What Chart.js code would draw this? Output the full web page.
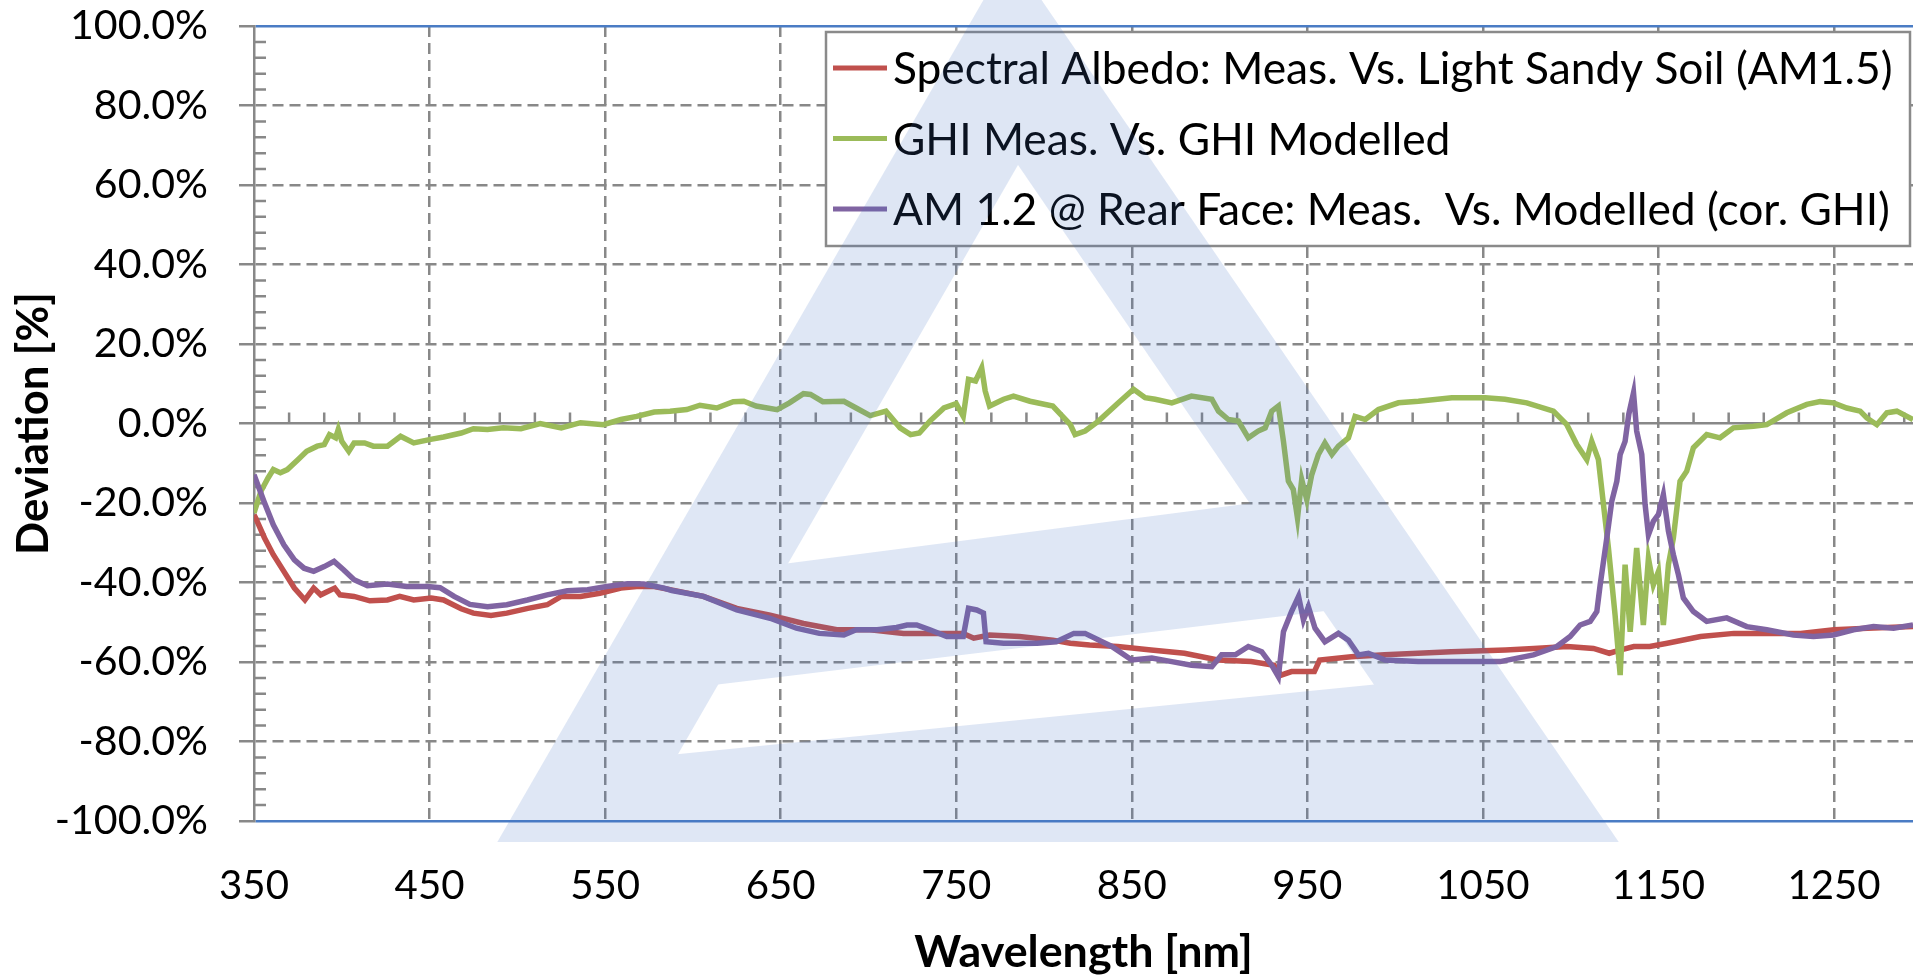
<!DOCTYPE html>
<html>
<head>
<meta charset="utf-8">
<title>Deviation vs wavelength</title>
<script src="https://cdn.jsdelivr.net/npm/chart.js@4.4.1/dist/chart.umd.min.js"></script>
<style>
  html, body { margin: 0; padding: 0; background: #fff; }
  #wrap { width: 1913px; height: 975px; }
</style>
</head>
<body>
<div id="wrap"><canvas id="Chart1" width="1913" height="975"></canvas></div>
<script>
// tick labels
var xTickValues = [350, 450, 550, 650, 750, 850, 950, 1050, 1150, 1250];
var seriesLabels = [
  "Spectral Albedo: Meas. Vs. Light Sandy Soil (AM1.5)",
  "GHI Meas. Vs. GHI Modelled",
  "AM 1.2 @ Rear Face: Meas.  Vs. Modelled (cor. GHI)"
];

// series 1: spectral albedo
var albedoNm = [350, 351, 356, 361, 367, 373, 379, 384, 388, 396,
  399, 407, 416, 426, 433, 441, 451, 458, 468, 475,
  485, 494, 506, 517, 525, 536, 547, 559, 568, 578,
  587, 606, 625, 644, 663, 682, 701, 720, 739, 754,
  760, 769, 786, 805, 815, 826, 842, 861, 880, 899,
  918, 931, 935, 941, 954, 957, 975, 994, 1013, 1032,
  1050, 1063, 1079, 1098, 1113, 1122, 1128, 1136, 1145, 1155,
  1174, 1193, 1212, 1231, 1250, 1269, 1295];
var albedoDev = [-23, -23.8, -28.8, -33, -37.2, -41.4, -44.4, -41.4, -43.1, -41.4,
  -43.1, -43.5, -44.6, -44.4, -43.5, -44.4, -43.9, -44.4, -46.6, -47.7,
  -48.3, -47.7, -46.5, -45.6, -43.5, -43.5, -42.7, -41.4, -41, -41,
  -41.8, -43.5, -46.5, -48.2, -50.3, -51.9, -51.9, -52.8, -52.8, -52.8,
  -54, -53.2, -53.6, -54.5, -55.3, -55.7, -56.1, -57, -57.8, -59.5,
  -59.9, -60.8, -63.3, -62.4, -62.4, -59.5, -58.7, -58.2, -57.8, -57.4,
  -57.2, -57, -56.6, -56.1, -56.6, -57.8, -57, -56.1, -56.1, -55.3,
  -53.6, -52.8, -52.8, -52.8, -51.9, -51.5, -51.1];

// series 2: GHI
var ghiNm = [350, 354, 358, 361, 365, 369, 375, 380, 386, 390,
  393, 396.5, 398, 400, 404, 407, 413, 418, 426, 433.5,
  441, 450.6, 458, 468, 475, 483, 492, 502, 513, 525,
  536, 549, 559, 568, 578, 587, 596.5, 604, 613.6, 623,
  629, 636, 648, 655, 663, 667, 674, 686, 693, 701,
  710, 718, 724, 729, 735, 743, 750, 754, 757, 761,
  764.5, 766.5, 769, 777, 782.6, 792, 805, 815, 817.7, 823.4,
  831, 842.4, 851, 857.6, 863.3, 872.8, 884, 895.6, 899.4, 905,
  910.7, 916.4, 922, 926, 929.7, 933.5, 936.4, 939.2, 942, 944.4,
  946.8, 949.7, 952.5, 956.3, 960, 964, 967.7, 973.4, 977.2, 983,
  990.5, 1001.9, 1013.3, 1032.3, 1051.3, 1062.6, 1075, 1090.2, 1097.8, 1103.5,
  1109.2, 1112, 1115.8, 1118.7, 1121.5, 1125.3, 1128.2, 1131, 1133.9, 1137.6,
  1141.4, 1144.3, 1147.1, 1150, 1152.8, 1155.7, 1158.5, 1162.3, 1166.1, 1169.9,
  1177.5, 1185.1, 1192.7, 1204.1, 1211.7, 1223.1, 1234.5, 1242.1, 1249.7, 1257.3,
  1264.9, 1268.7, 1274.4, 1280.1, 1285.8, 1295];
var ghiDev = [-22.5, -17, -13.7, -11.6, -12.4, -11.6, -9.1, -7, -5.7, -5.3,
  -2.8, -3.6, -1.5, -4.5, -7, -4.9, -4.9, -5.7, -5.7, -3.2,
  -4.9, -4.0, -3.4, -2.4, -1.3, -1.5, -1.1, -1.3, 0, -1.1,
  0.2, -0.3, 1.0, 1.8, 2.9, 3.1, 3.5, 4.6, 3.9, 5.5,
  5.6, 4.4, 3.5, 5.2, 7.5, 7.3, 5.5, 5.6, 3.9, 2.0,
  3.1, -1.1, -2.8, -2.4, 0.6, 3.9, 5.0, 1.8, 11.1, 10.7,
  14.0, 8.2, 4.4, 6.1, 6.9, 5.6, 4.4, -0.3, -2.8, -1.9,
  0.6, 5.2, 8.6, 6.5, 6.1, 5.2, 6.9, 6.1, 3.1, 1.0,
  0.6, -3.6, -1.9, -1.1, 3.1, 4.4, -4.5, -14.5, -16.6, -23.8,
  -14.1, -19.2, -12.9, -7.8, -4.9, -7.8, -5.7, -3.6, 1.8, 1.0,
  3.5, 5.2, 5.6, 6.5, 6.5, 6.1, 5.2, 3.1, -0.3, -5.3,
  -9.1, -4.5, -9.1, -20.4, -31.3, -48.2, -63.3, -35.5, -52.4, -31.3,
  -50.7, -33.9, -40.6, -37.2, -50.7, -35.5, -28.8, -14.5, -12, -6.1,
  -2.8, -3.6, -1.1, -0.7, -0.3, 2.7, 4.8, 5.5, 5.2, 3.9,
  3.1, 1.4, -0.3, 2.7, 3.1, 1.0];

// series 3: rear face AM 1.2
var rearNm = [350, 355.7, 361, 367, 373, 378.5, 384, 390, 395.6, 401,
  407, 414.6, 426, 437, 448.7, 456, 464, 473, 483, 494,
  505.7, 517, 528.5, 540, 551, 562.7, 572, 583.5, 588, 606,
  625, 644, 659, 672, 686, 693, 705, 716, 722, 727.5,
  735, 744.6, 754, 757, 761.7, 765.5, 767, 777, 796, 807,
  817, 823.4, 838.6, 850, 861.4, 872.8, 884, 895.6, 901.2, 909,
  916.4, 924, 929.7, 933.5, 936.4, 941, 945, 947.8, 950.6, 954.4,
  960, 967.7, 973.4, 979.1, 984.8, 994.3, 1013.3, 1032.3, 1059.8, 1078.8,
  1092.1, 1099.7, 1105.4, 1111.1, 1114.9, 1116.8, 1120.6, 1123.4, 1126.3, 1128.2,
  1131, 1133.1, 1135.8, 1137.6, 1140.5, 1142.4, 1144.3, 1147.1, 1150, 1152.8,
  1155.7, 1158.5, 1161.4, 1164.2, 1169.9, 1177.5, 1188.9, 1200.3, 1211.7, 1226.9,
  1238.3, 1249.7, 1261.1, 1272.5, 1283.9, 1295];
var rearDev = [-12.9, -19.6, -25.5, -30.5, -34.3, -36.4, -37.2, -36, -34.7, -36.8,
  -39.3, -40.8, -40.4, -41, -41, -41.3, -43.5, -45.5, -46.1, -45.6,
  -44.4, -43.1, -42.1, -41.8, -41, -40.3, -40.4, -41.4, -42, -43.5,
  -46.9, -49, -51.5, -52.8, -53.2, -51.9, -51.9, -51.3, -50.7, -50.7,
  -51.9, -53.6, -53.6, -46.5, -46.9, -47.7, -54.9, -55.3, -55.3, -54.9,
  -52.8, -52.8, -56.1, -59.5, -59, -59.9, -60.8, -61.2, -58.2, -58.2,
  -56.1, -57.4, -60.8, -63.7, -52.4, -47.3, -43.5, -49.4, -46.1, -51.5,
  -54.9, -52.8, -54.5, -58.2, -57.8, -59.5, -59.9, -59.9, -59.9, -58.2,
  -56.1, -53.6, -50.7, -49.8, -47.3, -40.6, -28.8, -19.6, -14.5, -7.8,
  -4.5, 2.3, 7.7, -1.9, -7.8, -20.4, -28, -24.6, -22.9, -17.9,
  -27.1, -33, -38.1, -43.9, -47.3, -49.8, -48.9, -51.1, -51.9, -53.2,
  -53.6, -53.2, -51.9, -51.1, -51.5, -50.7];

var seriesColors = ['#C0504D', '#9BBB59', '#8064A2'];
var gridGray = '#888888';
var edgeBlue = '#4A7CC4';

function pairs(xs, ys) {
  return xs.map(function (x, i) { return { x: x, y: ys[i] }; });
}

// pick a Lato size so a text gets the width it has in the picture
function fitSize(text, width, weight) {
  var c = document.createElement('canvas').getContext('2d');
  c.font = (weight ? weight + ' ' : '') + '100px Lato';
  return Math.round(1000 * width / c.measureText(text).width) / 10;
}
var xTickSize = fitSize('350', 70);
var yTickSize = fitSize('100.0%', 138);
var legendSize = fitSize(seriesLabels[0], 999);
var xTitleSize = fitSize('Wavelength [nm]', 339, 'bold');
var yTitleSize = fitSize('Deviation [%]', 263, 'bold');

// faint triangle watermark, built once on a side canvas
function buildMark() {
  var cv = document.createElement('canvas');
  cv.width = 1913; cv.height = 975;
  var w = cv.getContext('2d');
  function poly(pts) {
    w.beginPath();
    w.moveTo(pts[0][0], pts[0][1]);
    for (var i = 1; i < pts.length; i++) w.lineTo(pts[i][0], pts[i][1]);
    w.closePath();
  }
  var yb = 842;
  w.fillStyle = 'rgb(68,114,196)';
  poly([[1010, -46], [1042 + 0.685 * yb, yb], [984 - 0.578 * yb, yb]]);
  w.fill();
  w.save();
  poly([[1018, 165], [905 + 0.685 * yb, yb], [1114 - 0.578 * yb, yb]]);
  w.clip();
  w.globalCompositeOperation = 'destination-out';
  poly([[0, -10], [1913, -10], [1913, 547 - 0.13 * (1913 - 914)], [0, 547 + 0.13 * 914]]);
  w.fill();
  poly([[0, 671 + 0.121 * 829], [1913, 671 - 0.121 * (1913 - 829)],
        [1913, 752 - 0.1 * (1913 - 700)], [0, 752 + 0.1 * 700]]);
  w.fill();
  w.restore();
  return cv;
}
var markCanvas = buildMark();

// minor ticks, boxed legend (Excel style) and watermark
var extras = {
  id: 'extras',
  beforeDatasetsDraw: function (chart) {
    var ctx = chart.ctx, xs = chart.scales.x, ys = chart.scales.y;
    var y0 = ys.getPixelForValue(0), xl = xs.getPixelForValue(350);
    ctx.save();
    ctx.strokeStyle = gridGray;
    ctx.lineWidth = 2.5;
    ctx.beginPath();
    for (var w = 370; w < 1295; w += 20) {
      if ((w - 350) % 100 === 0) continue;
      var px = xs.getPixelForValue(w);
      ctx.moveTo(px, y0);
      ctx.lineTo(px, y0 - 11);
    }
    for (var v = -96; v < 100; v += 4) {
      if (v % 20 === 0) continue;
      var py = ys.getPixelForValue(v);
      ctx.moveTo(xl, py);
      ctx.lineTo(xl + 12, py);
    }
    ctx.stroke();
    ctx.restore();
  },
  afterDatasetsDraw: function (chart) {
    var ctx = chart.ctx, ca = chart.chartArea;
    var bx = ca.left + 572, by = ca.top + 6, bw = 1084, bh = 214;
    ctx.save();
    ctx.fillStyle = '#ffffff';
    ctx.fillRect(bx, by, bw, bh);
    ctx.strokeStyle = '#8a8a8a';
    ctx.lineWidth = 2.5;
    ctx.strokeRect(bx, by, bw, bh);
    ctx.font = legendSize + 'px Lato';
    ctx.textBaseline = 'middle';
    ctx.textAlign = 'left';
    [0, 1, 2].forEach(function (i) {
      var ds = chart.data.datasets[i];
      var ry = by + 36 + i * 70.5;
      ctx.strokeStyle = ds.borderColor;
      ctx.lineWidth = 5;
      ctx.beginPath();
      ctx.moveTo(bx + 7, ry);
      ctx.lineTo(bx + 61, ry);
      ctx.stroke();
      ctx.fillStyle = '#000';
      ctx.fillText(ds.label, bx + 67, ry + 2);
    });
    ctx.restore();
  },
  afterDraw: function (chart) {
    var ctx = chart.ctx;
    ctx.save();
    ctx.globalAlpha = 0.17;
    ctx.drawImage(markCanvas, 0, 0);
    ctx.restore();
  }
};

var ctxL = document.getElementById('Chart1').getContext('2d');
var devChart = new Chart(ctxL, {
  type: 'line',
  data: {
    datasets: [
      { label: seriesLabels[0], data: pairs(albedoNm, albedoDev), borderColor: seriesColors[0], borderWidth: 5.5, pointRadius: 0, order: 2 },
      { label: seriesLabels[1], data: pairs(ghiNm, ghiDev), borderColor: seriesColors[1], borderWidth: 5.5, pointRadius: 0, order: 1 },
      { label: seriesLabels[2], data: pairs(rearNm, rearDev), borderColor: seriesColors[2], borderWidth: 5.5, pointRadius: 0, order: 0 }
    ]
  },
  options: {
    responsive: false,
    animation: false,
    devicePixelRatio: 1,
    layout: { padding: { top: 26, right: 0, bottom: 0, left: 0 } },
    plugins: { legend: { display: false }, tooltip: { enabled: false } },
    scales: {
      x: {
        type: 'linear',
        min: 350,
        max: 1295,
        afterBuildTicks: function (axis) {
          axis.ticks = xTickValues.map(function (v) { return { value: v }; });
        },
        afterFit: function (s) { s.height = 154; s.paddingLeft = 0; s.paddingRight = 0; },
        ticks: {
          font: { family: 'Lato', size: xTickSize, lineHeight: 1 },
          color: '#000',
          padding: Math.round(886 - 821 - xTickSize / 2),
          maxRotation: 0,
          autoSkip: false,
          callback: function (v) { return String(v); }
        },
        grid: {
          drawTicks: false,
          lineWidth: 2.5,
          color: function (c) { return (c.tick && c.tick.value === 350) ? 'rgba(0,0,0,0)' : gridGray; }
        },
        border: { display: false, dash: [11, 6] },
        title: {
          display: true,
          text: 'Wavelength [nm]',
          color: '#000',
          font: { family: 'Lato', size: xTitleSize, weight: 'bold', lineHeight: 1 },
          padding: 0
        }
      },
      y: {
        min: -100,
        max: 100,
        afterFit: function (s) { s.width = 254; s.paddingTop = 0; s.paddingBottom = 0; },
        ticks: {
          stepSize: 20,
          font: { family: 'Lato', size: yTickSize },
          color: '#000',
          padding: 31,
          callback: function (v) { return v.toFixed(1) + '%'; }
        },
        grid: {
          lineWidth: 2.5,
          tickLength: 15,
          tickWidth: 2.5,
          tickColor: gridGray,
          color: function (c) {
            if (!c.tick) return gridGray;
            return Math.abs(c.tick.value) === 100 ? edgeBlue : gridGray;
          }
        },
        border: {
          display: true,
          color: gridGray,
          width: 2.5,
          dash: function (c) {
            if (!c.tick) return [];
            var v = c.tick.value;
            return (v === 0 || Math.abs(v) === 100) ? [] : [11, 6];
          }
        },
        title: {
          display: true,
          text: 'Deviation [%]',
          color: '#000',
          font: { family: 'Lato', size: yTitleSize, weight: 'bold', lineHeight: 1 },
          padding: { top: Math.max(0, 34 - yTitleSize / 2), bottom: 0 }
        }
      }
    }
  },
  plugins: [extras]
});
</script>
</body>
</html>
